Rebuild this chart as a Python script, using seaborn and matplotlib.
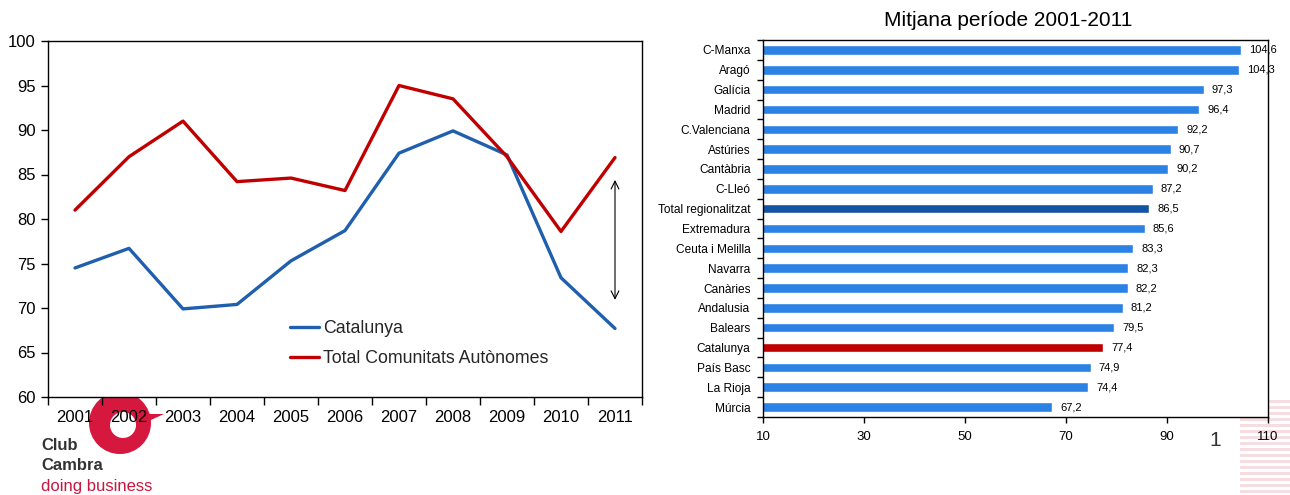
import matplotlib
matplotlib.use("Agg")
import matplotlib.pyplot as plt
import seaborn as sns
import pandas as pd
import numpy as np
from matplotlib.patches import Polygon, Rectangle, Ellipse
from matplotlib.lines import Line2D

# ---------------- data ----------------
years = [2001, 2002, 2003, 2004, 2005, 2006, 2007, 2008, 2009, 2010, 2011]
catalunya = [74.5, 76.7, 69.9, 70.4, 75.3, 78.7, 87.4, 89.9, 87.2, 73.4, 67.7]
total_ccaa = [81.0, 87.0, 91.0, 84.2, 84.6, 83.2, 95.0, 93.5, 87.0, 78.6, 86.9]
series_names = ["Catalunya", "Total Comunitats Autònomes"]

regions = ["C-Manxa", "Aragó", "Galícia", "Madrid", "C.Valenciana", "Astúries",
           "Cantàbria", "C-Lleó", "Total regionalitzat", "Extremadura",
           "Ceuta i Melilla", "Navarra", "Canàries", "Andalusia", "Balears",
           "Catalunya", "País Basc", "La Rioja", "Múrcia"]
mitjana = [104.6, 104.3, 97.3, 96.4, 92.2, 90.7, 90.2, 87.2, 86.5, 85.6,
           83.3, 82.3, 82.2, 81.2, 79.5, 77.4, 74.9, 74.4, 67.2]
mitjana_labels = ["104,6", "104,3", "97,3", "96,4", "92,2", "90,7", "90,2",
                  "87,2", "86,5", "85,6", "83,3", "82,3", "82,2", "81,2",
                  "79,5", "77,4", "74,9", "74,4", "67,2"]
bar_ticks = [10, 30, 50, 70, 90, 110]

BLUE_LINE = "#1F5FAD"
RED_LINE = "#C00000"
BAR_BLUE = "#2B82E4"
BAR_DARK = "#1553A3"
BAR_RED = "#C00000"

sns.set_theme(style="white")
plt.rcParams["font.family"] = ["Liberation Sans", "DejaVu Sans"]

fig = plt.figure(figsize=(12.9, 4.95), dpi=100)
W, H = 1290, 495

def ax_rect(x0, y0, x1, y1):
    return [x0 / W, 1 - y1 / H, (x1 - x0) / W, (y1 - y0) / H]

# ---------------- left: line chart ----------------
ax1 = fig.add_axes(ax_rect(48, 41, 642, 397))
df = pd.DataFrame({
    "year": years * 2,
    "value": catalunya + total_ccaa,
    "serie": [series_names[0]] * len(years) + [series_names[1]] * len(years),
})
sns.lineplot(data=df, x="year", y="value", hue="serie", ax=ax1,
             palette=[BLUE_LINE, RED_LINE], linewidth=2.4, legend=False)
ax1.set_xlim(years[0] - 0.5, years[-1] + 0.5)
ax1.set_ylim(60, 100)
ax1.set_yticks(range(60, 101, 5))
ax1.set_xticks([y - 0.5 for y in years] + [years[-1] + 0.5])
ax1.set_xticklabels([])
ax1.set_xticks(years, minor=True)
ax1.set_xticklabels([str(y) for y in years], minor=True)
ax1.tick_params(axis="x", which="major", direction="out", length=6, width=1,
                color="black", bottom=True)
ax1.tick_params(axis="x", which="minor", length=0, pad=9, labelsize=12,
                labelcolor="black")
ax1.tick_params(axis="y", direction="out", length=5, width=1, color="black",
                left=True, labelsize=12, labelcolor="black", pad=4)
ax1.set_xlabel("")
ax1.set_ylabel("")
for s in ax1.spines.values():
    s.set_color("black")
    s.set_linewidth(1)
ax1.annotate("", xy=(years[-1], 84.7), xytext=(years[-1], 70.6),
             arrowprops=dict(arrowstyle="<->", color="black", lw=0.8,
                             mutation_scale=14))
handles = [Line2D([0], [0], color=BLUE_LINE, lw=2.4),
           Line2D([0], [0], color=RED_LINE, lw=2.4)]
ax1.legend(handles, series_names, loc="lower left",
           bbox_to_anchor=(0.38, 0.04), frameon=False, fontsize=12.8,
           handlelength=1.65, handletextpad=0.25, labelspacing=0.7)

# ---------------- right: bar chart ----------------
ax2 = fig.add_axes(ax_rect(763, 40, 1268, 417))
bar_colors = []
for r in regions:
    if r == "Total regionalitzat":
        bar_colors.append(BAR_DARK)
    elif r == "Catalunya":
        bar_colors.append(BAR_RED)
    else:
        bar_colors.append(BAR_BLUE)
bdf = pd.DataFrame({"region": regions, "value": mitjana})
sns.barplot(data=bdf, y="region", x="value", hue="region", palette=bar_colors,
            orient="h", width=0.48, ax=ax2, legend=False, saturation=1)
ax2.set_xlim(bar_ticks[0], bar_ticks[-1])
ax2.set_xticks(bar_ticks)
ax2.set_xlabel("")
ax2.set_ylabel("")
ax2.set_ylim(len(regions) - 0.5, -0.5)
ax2.set_yticks(range(len(regions)))
ax2.set_yticklabels(regions)
ax2.set_yticks([i - 0.5 for i in range(len(regions) + 1)], minor=True)
ax2.tick_params(axis="y", which="major", length=0, labelsize=8.6,
                labelcolor="black", pad=9)
ax2.tick_params(axis="y", which="minor", direction="out", length=4, width=1,
                color="black", left=True)
ax2.tick_params(axis="x", direction="out", length=4, width=1, color="black",
                bottom=True, labelsize=9.5, labelcolor="black", pad=6)
for s in ax2.spines.values():
    s.set_color("black")
    s.set_linewidth(1)
for i, (v, lab) in enumerate(zip(mitjana, mitjana_labels)):
    ax2.text(v + 1.6, i, lab, va="center", ha="left", fontsize=8,
             color="black")

fig.text(1008 / W, 1 - 20 / H, "Mitjana període 2001-2011", ha="center",
         va="center", fontsize=15, color="black")

# page number
fig.text(1215 / W, 1 - 441 / H, "1", ha="center", va="center", fontsize=15,
         color="#333333")

# faint stripes (bottom right decoration)
for k in range(16):
    y = 400 + k * 6
    fig.patches.append(Rectangle((1240 / W, 1 - (y + 3) / H), 50 / W, 3 / H,
                                 transform=fig.transFigure,
                                 facecolor="#F6DDE1", edgecolor="none",
                                 zorder=-2))

# logo (approximation)
cx, cy, r = 120, 423, 31
fig.patches.append(Polygon([((cx + 20) / W, 1 - (cy - 9) / H),
                            ((cx + 44) / W, 1 - (cy - 9) / H),
                            ((cx + 20) / W, 1 - (cy + 2) / H)],
                           closed=True, transform=fig.transFigure,
                           facecolor="#D6173E", edgecolor="none", zorder=-1))
fig.patches.append(Ellipse((cx / W, 1 - cy / H), 2 * r / W, 2 * r / H,
                           transform=fig.transFigure, facecolor="#D6173E",
                           edgecolor="none", zorder=-1))
fig.patches.append(Ellipse(((cx + 3) / W, 1 - (cy + 2) / H), 26 / W, 26 / H,
                           transform=fig.transFigure, facecolor="white",
                           edgecolor="none", zorder=-1))
fig.text(41 / W, 1 - 445 / H, "Club", fontsize=12, fontweight="bold",
         color="#333333", va="center", ha="left")
fig.text(41 / W, 1 - 466 / H, "Cambra", fontsize=12, fontweight="bold",
         color="#333333", va="center", ha="left")
fig.text(41 / W, 1 - 487 / H, "doing business", fontsize=12,
         color="#C8173F", va="center", ha="left")

fig.savefig("out.png", dpi=100)
